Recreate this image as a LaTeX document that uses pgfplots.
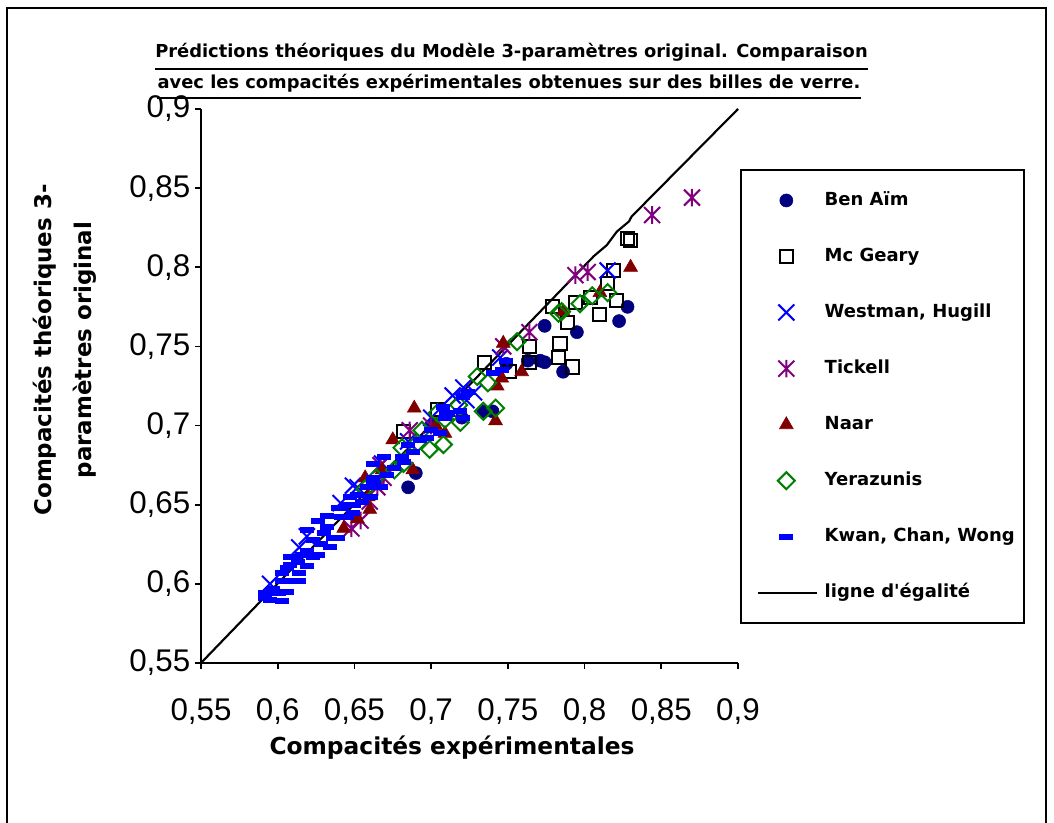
\documentclass[border=0pt]{standalone}
\usepackage{pgfplots}
\pgfplotsset{compat=1.18}
\usepackage{fontspec}
\setmainfont{Liberation Sans}
\newfontfamily\comic{DejaVu Sans}
\definecolor{navy}{HTML}{000080}
\definecolor{mblue}{HTML}{0000FF}
\definecolor{mpurple}{HTML}{800080}
\definecolor{mred}{HTML}{800000}
\definecolor{mgreen}{HTML}{008000}
\pgfdeclareplotmark{xstar}{%
 \pgfpathmoveto{\pgfqpoint{-\pgfplotmarksize}{-\pgfplotmarksize}}%
 \pgfpathlineto{\pgfqpoint{\pgfplotmarksize}{\pgfplotmarksize}}%
 \pgfpathmoveto{\pgfqpoint{-\pgfplotmarksize}{\pgfplotmarksize}}%
 \pgfpathlineto{\pgfqpoint{\pgfplotmarksize}{-\pgfplotmarksize}}%
 \pgfpathmoveto{\pgfqpoint{0pt}{-1.1\pgfplotmarksize}}%
 \pgfpathlineto{\pgfqpoint{0pt}{1.1\pgfplotmarksize}}%
 \pgfusepathqstroke}
\pgfdeclareplotmark{hbar}{%
 \pgfpathrectangle{\pgfqpoint{-\pgfplotmarksize}{-0.43\pgfplotmarksize}}{\pgfqpoint{2\pgfplotmarksize}{0.86\pgfplotmarksize}}%
 \pgfusepathqfill}
\begin{document}
\begin{tikzpicture}[x=0.75pt,y=0.75pt]
\path[use as bounding box] (0,0) rectangle (1054,823);
\draw[line width=0.9pt] (7,0) -- (7,815) -- (1046,815) -- (1046,0);
\begin{axis}[
  at={(150.75pt,120pt)}, anchor=south west,
  scale only axis, width=402.75pt, height=415.5pt,
  xmin=0.55, xmax=0.9, ymin=0.55, ymax=0.9,
  axis lines=left, axis line style={line width=1.5pt,-},
  xtick={0.55,0.6,0.65,0.7,0.75,0.8,0.85,0.9},
  ytick={0.55,0.6,0.65,0.7,0.75,0.8,0.85,0.9},
  tick align=outside, major tick length=4.5pt,
  tick style={line width=1.2pt,black},
  ticklabel style={font=\fontsize{23.5}{25}\selectfont},
  xticklabel style={yshift=-19pt},
  /pgf/number format/use comma,
  /pgf/number format/assume math mode=true,
  clip=false,
  legend style={at={(axis description cs:1.0354,0.851)}, anchor=north west,
    draw=none, fill=none, inner sep=0pt, row sep=29pt, column sep=5pt,
    font=\comic\bfseries\fontsize{13.5}{14}\selectfont,
    nodes={inner sep=0pt, text height=10pt, text depth=3pt, anchor=west}},
  legend cell align=left,
  legend image code/.code={\draw[mark repeat=2,mark phase=2,#1] plot coordinates {(0pt,0pt)(21pt,0pt)(44pt,0pt)};},
]
\addplot[only marks, mark=*, mark size=4.9pt, color=navy, mark options={fill=navy}] coordinates {
(0.828,0.775)(0.8225,0.766)(0.795,0.759)(0.774,0.763)(0.786,0.734)(0.763,0.741)(0.771,0.741)
(0.749,0.739)(0.774,0.740)(0.734,0.709)(0.740,0.709)(0.685,0.661)(0.690,0.670)(0.720,0.705)(0.700,0.700)};
\addlegendentry{Ben Aïm}
\addplot[only marks, mark=square, mark size=4.9pt, color=black, mark options={line width=1.5pt}] coordinates {
(0.828,0.818)(0.830,0.817)(0.819,0.798)(0.815,0.790)(0.821,0.779)(0.810,0.770)(0.804,0.781)(0.794,0.778)
(0.789,0.765)(0.784,0.752)(0.783,0.743)(0.792,0.737)(0.764,0.750)(0.764,0.740)(0.751,0.734)(0.735,0.740)
(0.779,0.775)(0.704,0.710)(0.682,0.696)};
\addlegendentry{Mc Geary}
\addplot[only marks, mark=x, mark size=8.5pt, color=mblue, mark options={line width=1.5pt}] coordinates {
(0.595,0.600)(0.614,0.623)(0.619,0.630)(0.641,0.651)(0.649,0.662)(0.652,0.661)(0.668,0.676)(0.685,0.690)
(0.700,0.705)(0.714,0.719)(0.721,0.724)(0.723,0.716)(0.728,0.721)(0.745,0.743)(0.815,0.798)};
\addlegendentry{Westman, Hugill}
\addplot[only marks, mark=xstar, mark size=6pt, color=mpurple, mark options={line width=1.5pt}] coordinates {
(0.648,0.635)(0.654,0.640)(0.660,0.652)(0.665,0.661)(0.669,0.667)(0.667,0.675)(0.686,0.697)(0.700,0.700)
(0.747,0.750)(0.764,0.759)(0.794,0.795)(0.802,0.797)(0.844,0.833)(0.870,0.844)};
\addlegendentry{Tickell}
\addplot[only marks, mark=triangle*, mark size=6pt, color=mred, mark options={fill=mred}] coordinates {
(0.643,0.635)(0.652,0.641)(0.660,0.647)(0.659,0.655)(0.657,0.667)(0.668,0.672)(0.675,0.691)(0.688,0.672)
(0.689,0.711)(0.709,0.695)(0.703,0.700)(0.742,0.703)(0.743,0.725)(0.746,0.730)(0.759,0.734)(0.747,0.752)
(0.786,0.772)(0.810,0.784)(0.830,0.800)};
\addlegendentry{Naar}
\addplot[only marks, mark=square, mark size=4.5pt, color=mgreen, mark options={rotate=45, line width=1.5pt}] coordinates {
(0.657,0.660)(0.664,0.667)(0.676,0.672)(0.682,0.676)(0.681,0.686)(0.691,0.689)(0.699,0.685)(0.708,0.688)
(0.694,0.697)(0.704,0.708)(0.709,0.704)(0.718,0.713)(0.719,0.702)(0.730,0.731)(0.737,0.727)(0.734,0.709)
(0.742,0.711)(0.756,0.753)(0.783,0.771)(0.785,0.772)(0.797,0.777)(0.805,0.782)(0.815,0.784)};
\addlegendentry{Yerazunis}
\addplot[only marks, mark=hbar, mark size=5.25pt, color=mblue] coordinates {
(0.592,0.591)(0.592,0.594)(0.595,0.590)(0.597,0.597)(0.601,0.594)(0.603,0.589)(0.603,0.602)(0.603,0.607)
(0.606,0.595)(0.606,0.610)(0.608,0.612)(0.608,0.617)(0.610,0.602)(0.613,0.614)(0.614,0.602)(0.614,0.607)
(0.616,0.618)(0.619,0.611)(0.619,0.621)(0.619,0.634)(0.623,0.628)(0.626,0.618)(0.626,0.640)(0.632,0.636)
(0.632,0.643)(0.634,0.623)(0.636,0.629)(0.639,0.629)(0.639,0.648)(0.641,0.642)(0.642,0.648)(0.645,0.642)
(0.645,0.650)(0.647,0.655)(0.649,0.645)(0.652,0.656)(0.658,0.661)(0.661,0.655)(0.662,0.664)(0.662,0.667)
(0.662,0.676)(0.663,0.664)(0.667,0.661)(0.669,0.680)(0.671,0.669)(0.681,0.680)(0.682,0.677)(0.688,0.683)
(0.693,0.691)(0.697,0.692)(0.706,0.695)(0.708,0.712)(0.709,0.705)(0.710,0.708)(0.711,0.707)(0.719,0.709)
(0.721,0.705)(0.721,0.718)(0.724,0.721)(0.740,0.733)(0.746,0.735)(0.749,0.741)(0.623,0.617)(0.611,0.617)
(0.628,0.625)(0.630,0.632)(0.650,0.650)(0.655,0.652)(0.676,0.673)(0.685,0.688)(0.700,0.697)};
\addlegendentry{Kwan, Chan, Wong}
\addplot[no markers, line width=1.6pt, color=black] coordinates {
(0.55,0.55)(0.79,0.791)(0.806,0.807)(0.8145,0.814)(0.821,0.8225)(0.829,0.829)(0.8306,0.832)(0.9,0.9)};
\addlegendentry{ligne d'égalité}
\end{axis}
\draw[line width=1.5pt] (741,653) rectangle (1024,200);
\node[anchor=base, inner sep=0pt, font=\comic\bfseries\fontsize{13.4}{14}\selectfont] (t1) at (511.5,765) {Prédictions théoriques du Modèle 3-paramètres original. Comparaison};
\node[anchor=base, inner sep=0pt, font=\comic\bfseries\fontsize{13.4}{14}\selectfont] (t2) at (509,734) {avec les compacités expérimentales obtenues sur des billes de verre.};
\draw[line width=1.8pt] (t1.west |- 0,754) -- (t1.east |- 0,754);
\draw[line width=1.8pt] (t2.west |- 0,725) -- (t2.east |- 0,725);
\node[anchor=base, inner sep=0pt, font=\comic\bfseries\fontsize{17.5}{18}\selectfont] at (452,68) {Compacités expérimentales};
\node[rotate=90, align=center, inner sep=0pt, font=\comic\bfseries\fontsize{17.2}{30}\selectfont] at (65,473) {Compacités théoriques 3-\\paramètres original};
\end{tikzpicture}
\end{document}
